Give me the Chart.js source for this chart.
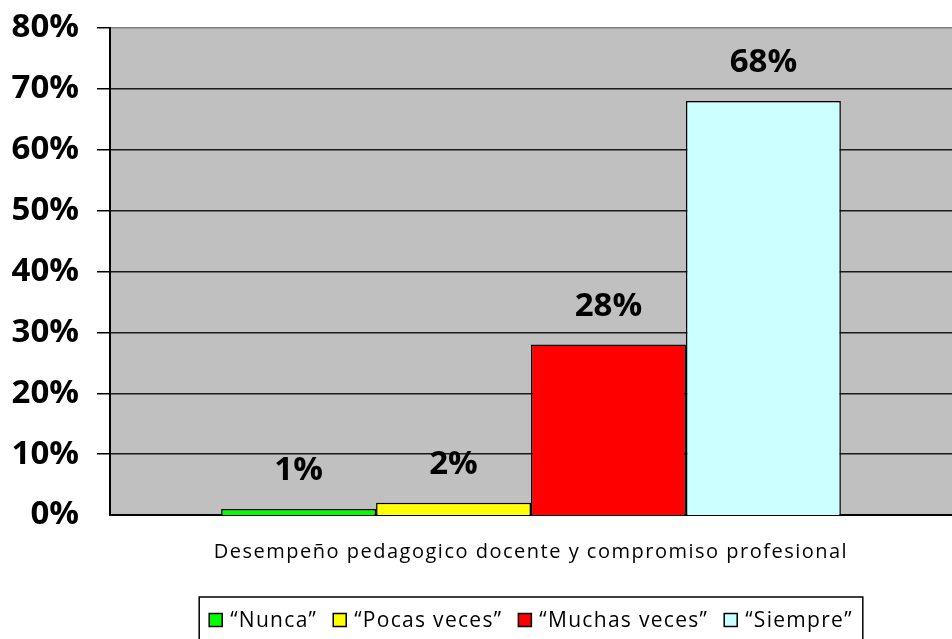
<!DOCTYPE html>
<html>
<head>
<meta charset="utf-8">
<script src="https://cdn.jsdelivr.net/npm/chart.js@4/dist/chart.umd.min.js"></script>
<style>
  html, body { margin: 0; padding: 0; background: #fff; }
  #wrap { width: 952px; height: 639px; }
</style>
</head>
<body>
<div id="wrap"><canvas id="grafico"></canvas></div>
<script>
// datos del grafico
const categorias = [''];
const series = ['“Nunca”', '“Pocas veces”', '“Muchas veces”', '“Siempre”'];
const valores = [1, 2, 28, 68];
const colores = ['#00FF00', '#FFFF00', '#FF0000', '#CCFFFF'];
const ticksY = [0, 10, 20, 30, 40, 50, 60, 70, 80];
const tituloX = 'Desempeño pedagogico docente y compromiso profesional';

const fuente = '"Open Sans", "Liberation Sans", sans-serif';

// fondo gris del area de trazado
const fondoPlugin = {
  id: 'fondo',
  beforeDraw(chart) {
    const a = chart.chartArea;
    const ctx = chart.ctx;
    ctx.save();
    ctx.fillStyle = '#C0C0C0';
    ctx.fillRect(a.left, a.top, a.right - a.left, a.bottom - a.top);
    ctx.restore();
  }
};

// etiquetas de valor encima de cada barra
const etiquetasPlugin = {
  id: 'etiquetas',
  afterDatasetsDraw(chart) {
    const ctx = chart.ctx;
    ctx.save();
    ctx.font = 'bold 33px ' + fuente;
    ctx.fillStyle = '#000';
    ctx.textAlign = 'center';
    ctx.textBaseline = 'middle';
    chart.data.datasets.forEach((ds, i) => {
      const meta = chart.getDatasetMeta(i);
      meta.data.forEach((bar, j) => {
        ctx.fillText(ds.data[j] + '%', bar.x, bar.y - 38);
      });
    });
    ctx.restore();
  }
};

// titulo del eje x y leyenda con recuadro
const leyendaPlugin = {
  id: 'leyenda',
  afterDraw(chart) {
    const ctx = chart.ctx;
    const a = chart.chartArea;
    const cx = (a.left + a.right) / 2;
    ctx.save();
    ctx.fillStyle = '#000';
    ctx.textAlign = 'center';
    ctx.textBaseline = 'middle';
    ctx.font = '20px ' + fuente;
    ctx.letterSpacing = '1.5px';
    ctx.fillText(tituloX, cx, a.bottom + 37);

    // leyenda
    ctx.font = '21px ' + fuente;
    ctx.letterSpacing = '1.3px';
    const caja = 13, sepCaja = 8, sepItem = 16;
    const anchos = series.map(s => ctx.measureText(s).width);
    let total = 0;
    anchos.forEach((w, i) => { total += caja + sepCaja + w + (i < series.length - 1 ? sepItem : 0); });
    let x = cx - total / 2;
    const y = a.bottom + 105;
    ctx.strokeStyle = '#000';
    ctx.lineWidth = 1.5;
    ctx.strokeRect(x - 10, y - 23, total + 20, 60);
    ctx.textAlign = 'left';
    series.forEach((s, i) => {
      ctx.fillStyle = colores[i];
      ctx.fillRect(x, y - caja / 2, caja, caja);
      ctx.strokeStyle = '#000';
      ctx.lineWidth = 1.5;
      ctx.strokeRect(x, y - caja / 2, caja, caja);
      ctx.fillStyle = '#000';
      ctx.fillText(s, x + caja + sepCaja, y + 1);
      x += caja + sepCaja + anchos[i] + sepItem;
    });
    ctx.restore();
  }
};

const ctx = document.getElementById('grafico').getContext('2d');
const grafico = new Chart(ctx, {
  type: 'bar',
  data: {
    labels: categorias,
    datasets: series.map((s, i) => ({
      label: s,
      data: [valores[i]],
      backgroundColor: colores[i],
      borderColor: '#000',
      borderWidth: 1.5
    }))
  },
  options: {
    responsive: true,
    maintainAspectRatio: false,
    animation: false,
    layout: { padding: { top: 28, right: 0, left: 0, bottom: 0 } },
    plugins: {
      legend: { display: false },
      tooltip: { enabled: false }
    },
    datasets: {
      bar: { categoryPercentage: 0.736, barPercentage: 1 }
    },
    scales: {
      x: {
        ticks: { display: false },
        grid: { display: false, drawTicks: false },
        border: { color: '#000', width: 2 },
        afterFit(scale) { scale.height = 124; }
      },
      y: {
        min: 0,
        max: 80,
        afterBuildTicks(scale) { scale.ticks = ticksY.map(v => ({ value: v })); },
        ticks: {
          padding: 18,
          color: '#000',
          font: { family: fuente, size: 33, weight: 'bold' },
          callback: v => v + '%'
        },
        grid: {
          color: c => (c.tick && c.tick.value === 80 ? '#808080' : '#1a1a1a'),
          lineWidth: c => (c.tick && c.tick.value === 0 ? 0 : 1.5),
          tickColor: '#000',
          tickLength: 13
        },
        border: { color: '#000', width: 2 },
        afterFit(scale) {
          scale.width = 110;
          scale.paddingTop = 0;
          scale.paddingBottom = 0;
        }
      }
    }
  },
  plugins: [fondoPlugin, etiquetasPlugin, leyendaPlugin]
});
</script>
</body>
</html>
